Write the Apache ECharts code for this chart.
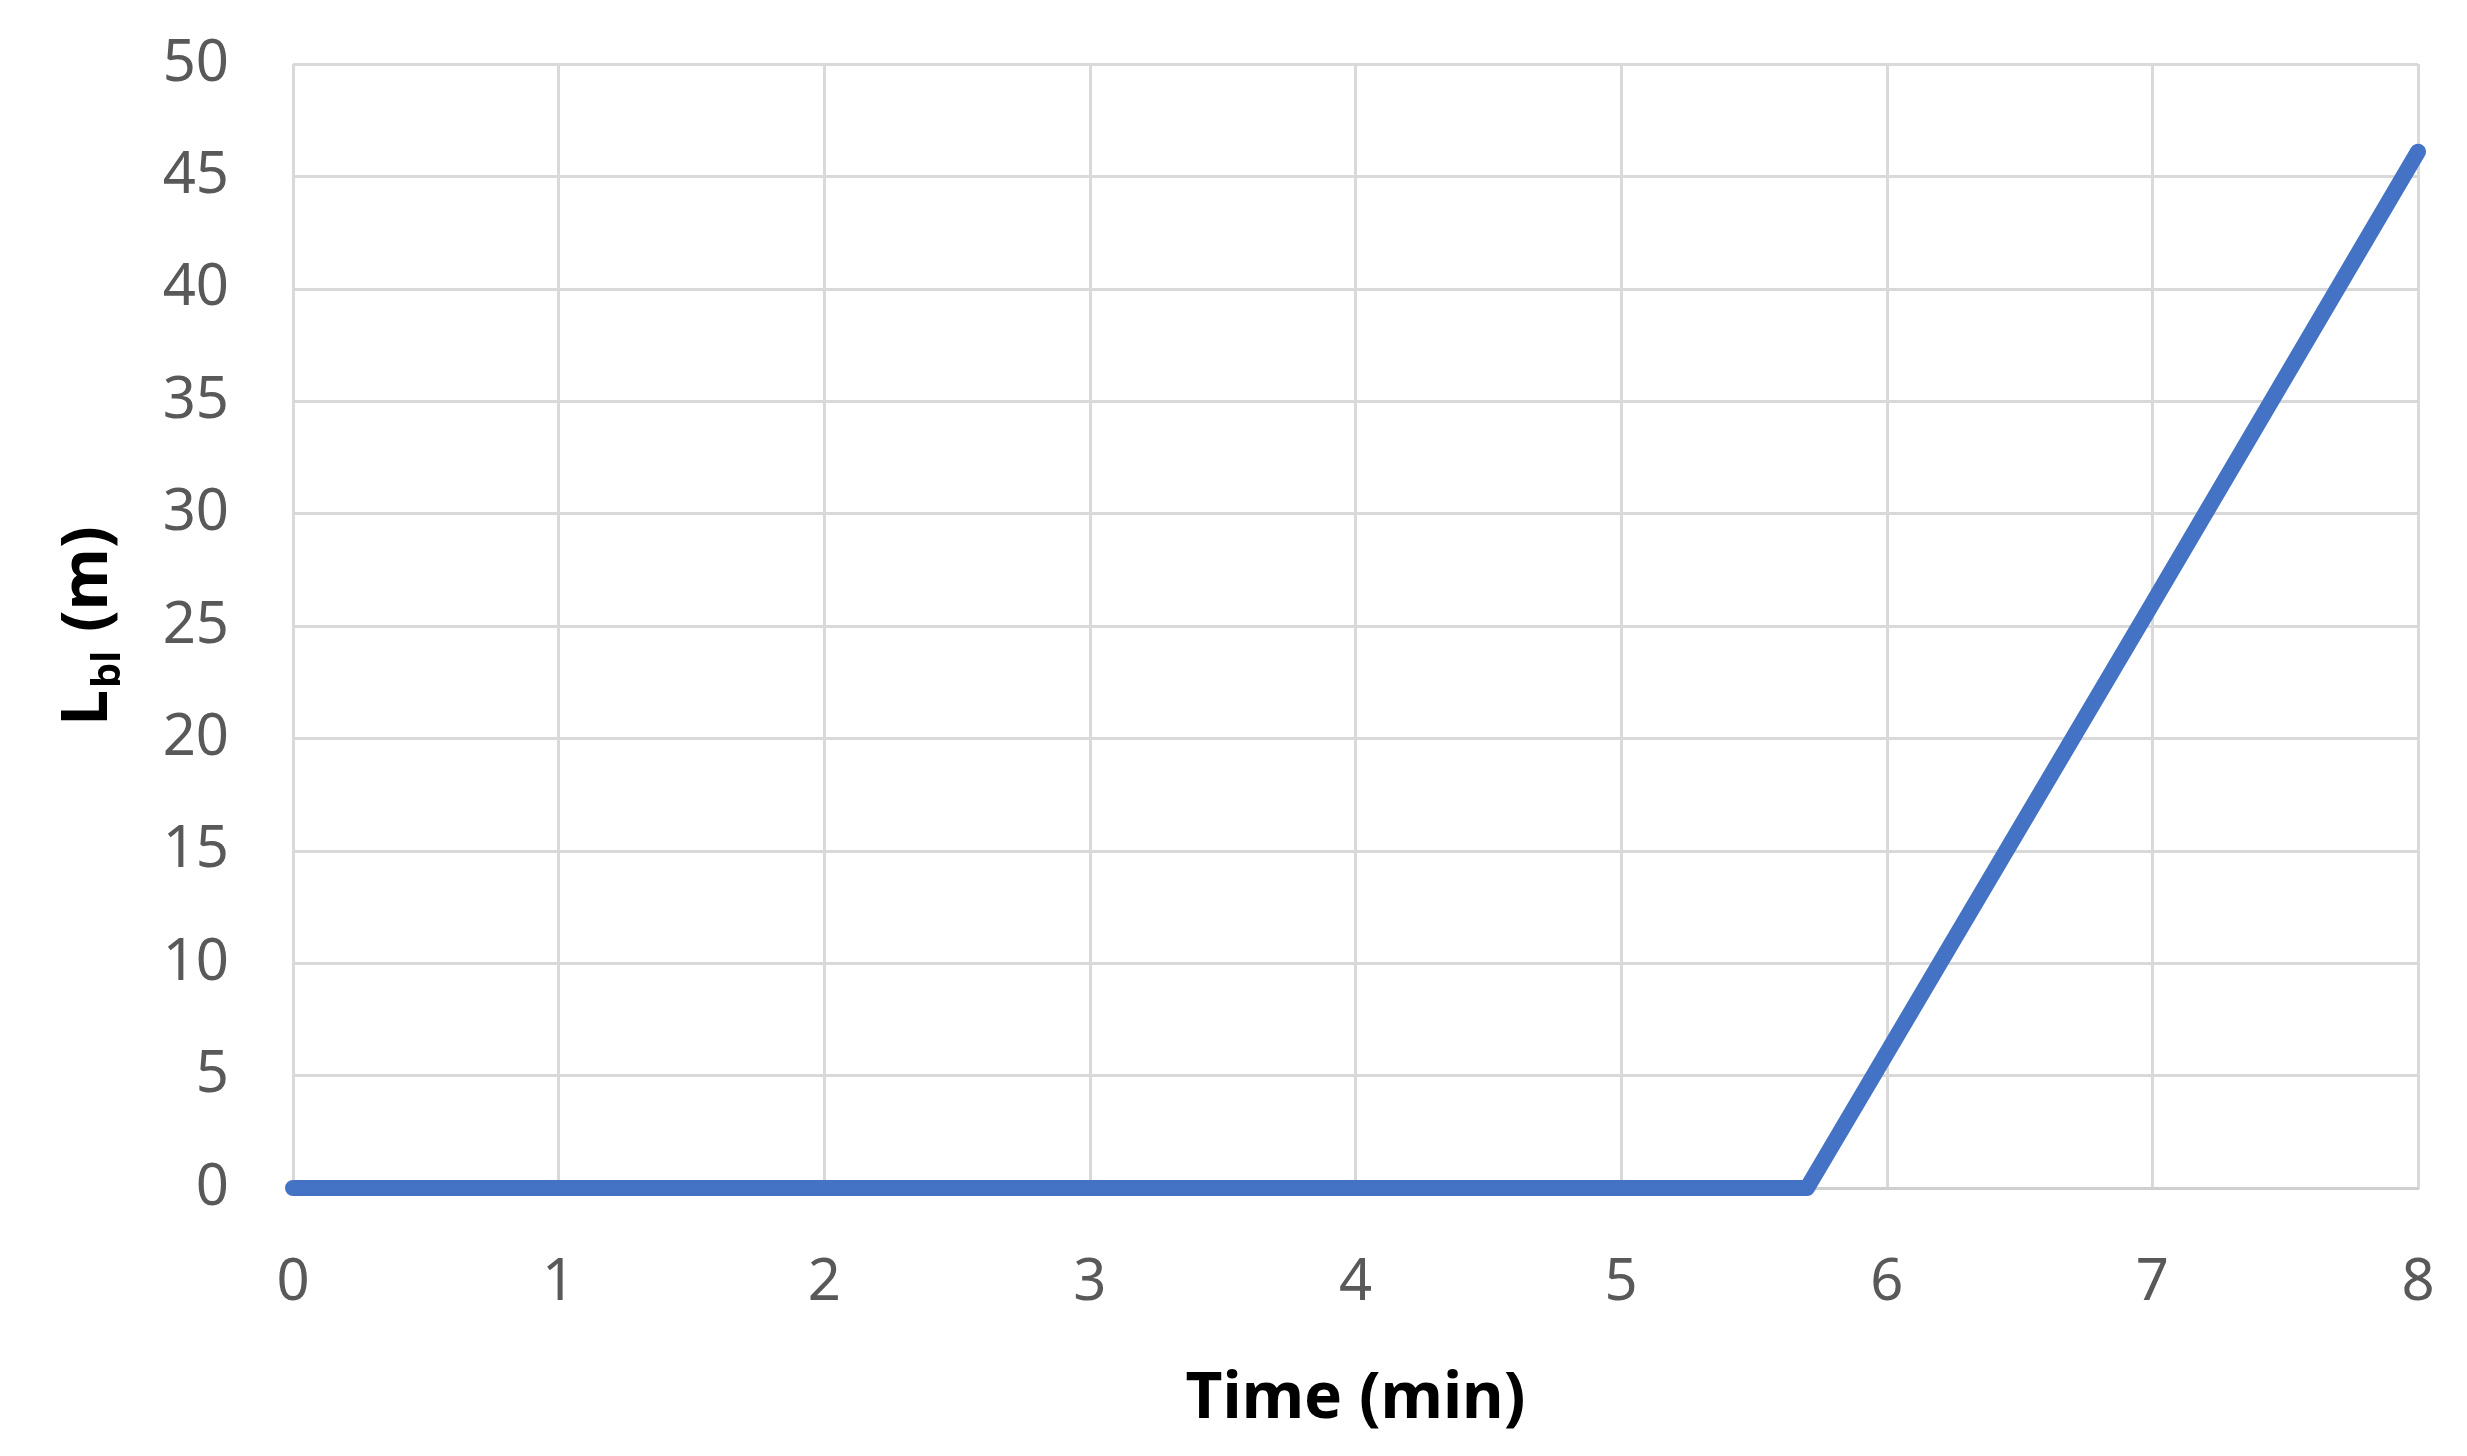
<!DOCTYPE html>
<html>
<head>
<meta charset="utf-8">
<script src="https://cdn.jsdelivr.net/npm/echarts@6/dist/echarts.min.js"></script>
<style>
  html, body { margin: 0; padding: 0; background: #fff; }
  #chart { width: 2467px; height: 1456px; }
</style>
</head>
<body>
<div id="chart"></div>
<script>
  // time in minutes and bed length (m)
  var timeMin = [0, 1, 2, 3, 4, 5, 5.7, 6, 7, 8];
  var lengthM = [0, 0, 0, 0, 0, 0, 0, 6, 26, 46.1];
  var xTicks = [0, 1, 2, 3, 4, 5, 6, 7, 8];
  var yTicks = [0, 5, 10, 15, 20, 25, 30, 35, 40, 45, 50];

  var points = timeMin.map(function (t, i) { return [t, lengthM[i]]; });

  var font = '"Noto Sans", "Open Sans", sans-serif';
  var gridColor = "#d9d9d9";

  var chart = echarts.init(document.getElementById("chart"));
  chart.setOption({
    animation: false,
    backgroundColor: "#ffffff",
    grid: { left: 293, right: 49, top: 64, bottom: 268 },
    xAxis: {
      type: "value",
      min: xTicks[0],
      max: xTicks[xTicks.length - 1],
      interval: 1,
      name: "Time (min)",
      nameLocation: "middle",
      nameGap: 180,
      nameTextStyle: { fontFamily: font, fontSize: 64, fontWeight: "bold", color: "#000" },
      axisLine: { show: true, lineStyle: { color: "#cfcfcf", width: 3 } },
      axisTick: { show: false },
      axisLabel: { fontFamily: font, fontSize: 58, color: "#595959", margin: 66 },
      splitLine: { show: true, lineStyle: { color: gridColor, width: 3 } }
    },
    yAxis: {
      type: "value",
      min: yTicks[0],
      max: yTicks[yTicks.length - 1],
      interval: 5,
      name: "{a|L}{b|bl}{a| (m)}",
      nameLocation: "middle",
      nameGap: 164,
      nameTextStyle: {
        fontFamily: font,
        color: "#000",
        rich: {
          a: { fontFamily: font, fontSize: 64, fontWeight: "bold", color: "#000", lineHeight: 80, verticalAlign: "middle" },
          b: { fontFamily: font, fontSize: 40, fontWeight: "bold", color: "#000", lineHeight: 80, verticalAlign: "bottom", padding: [0, 2, 0, 2] }
        }
      },
      axisLine: { show: false },
      axisTick: { show: false },
      axisLabel: { fontFamily: font, fontSize: 58, color: "#595959", margin: 64 },
      splitLine: { show: true, lineStyle: { color: gridColor, width: 3 } }
    },
    series: [{
      type: "line",
      data: points,
      showSymbol: false,
      lineStyle: { color: "#4472c4", width: 16, cap: "round", join: "round" },
      itemStyle: { color: "#4472c4" }
    }]
  });
</script>
</body>
</html>
